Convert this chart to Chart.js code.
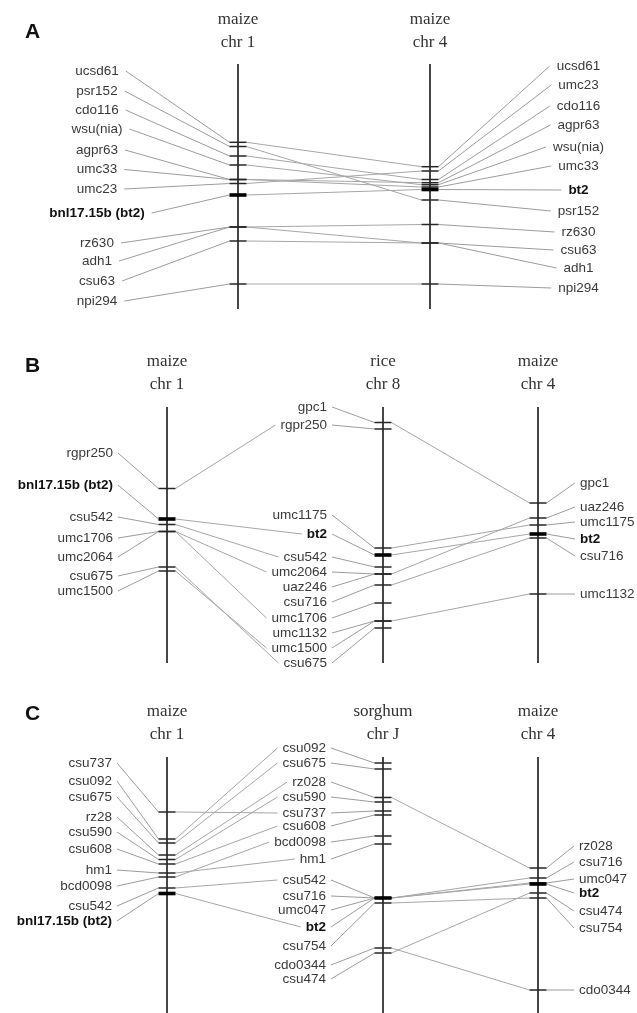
<!DOCTYPE html>
<html>
<head>
<meta charset="utf-8">
<script src="https://cdn.jsdelivr.net/npm/chart.js@4.4.1/dist/chart.umd.min.js"></script>
<style>
html, body { margin: 0; padding: 0; background: #fff; }
#wrap { position: relative; width: 637px; height: 1013px; }
</style>
</head>
<body>
<div id="wrap"><canvas id="mapChart"></canvas></div>
<script>
// marker positions (same vertical units as the page)

// panel A: maize chr 1 vs maize chr 4
const aMaize1Markers = ['ucsd61', 'psr152', 'cdo116', 'wsu(nia)', 'agpr63', 'umc33', 'umc23', 'bnl17.15b (bt2)', 'rz630', 'adh1', 'csu63', 'npi294'];
const aMaize1Pos = [142.3, 146.5, 156, 165, 179.5, 179.5, 183.5, 195, 227, 227, 241, 284];
const aMaize1LabelY = [71, 91, 110, 129, 150, 169.5, 189, 213, 243, 261, 281, 301];

const aMaize4Markers = ['ucsd61', 'umc23', 'cdo116', 'agpr63', 'wsu(nia)', 'umc33', 'bt2', 'psr152', 'rz630', 'csu63', 'adh1', 'npi294'];
const aMaize4Pos = [166.7, 171, 179.5, 182.7, 184.7, 187, 189.5, 200, 224.5, 243, 243, 284];
const aMaize4LabelY = [66, 85, 106, 125, 147, 166, 190, 211, 232, 250, 268, 288];

const aLinks = [
  ['ucsd61', 'ucsd61'], ['psr152', 'psr152'], ['cdo116', 'cdo116'], ['wsu(nia)', 'wsu(nia)'],
  ['agpr63', 'agpr63'], ['umc33', 'umc33'], ['umc23', 'umc23'], ['bnl17.15b (bt2)', 'bt2'],
  ['rz630', 'rz630'], ['adh1', 'adh1'], ['csu63', 'csu63'], ['npi294', 'npi294']
];

// panel B: maize chr 1 - rice chr 8 - maize chr 4
const bMaize1Markers = ['rgpr250', 'bnl17.15b (bt2)', 'csu542', 'umc1706', 'umc2064', 'csu675', 'umc1500'];
const bMaize1Pos = [488.5, 519, 524.5, 531.5, 531.5, 567, 571];
const bMaize1LabelY = [453, 485, 517, 538, 557, 576, 591];

const bRiceMarkers = ['gpc1', 'rgpr250', 'umc1175', 'bt2', 'csu542', 'umc2064', 'uaz246', 'csu716', 'umc1706', 'umc1132', 'umc1500', 'csu675'];
const bRicePos = [422.5, 429, 548, 555, 567, 574, 574, 585, 603, 621, 621, 628];
const bRiceLabelY = [407, 425, 515, 534, 557, 572, 587, 602, 618, 633, 648, 663];

const bMaize4Markers = ['gpc1', 'uaz246', 'umc1175', 'bt2', 'csu716', 'umc1132'];
const bMaize4Pos = [503, 518, 525, 534, 538, 594];
const bMaize4LabelY = [483, 507, 522, 539, 556, 594];

const bLinksMaize1Rice = [
  ['rgpr250', 'rgpr250'], ['bnl17.15b (bt2)', 'bt2'], ['csu542', 'csu542'], ['umc1706', 'umc1706'],
  ['umc2064', 'umc2064'], ['csu675', 'csu675'], ['umc1500', 'umc1500']
];
const bLinksRiceMaize4 = [
  ['gpc1', 'gpc1'], ['umc1175', 'umc1175'], ['bt2', 'bt2'], ['uaz246', 'uaz246'],
  ['csu716', 'csu716'], ['umc1132', 'umc1132']
];

// panel C: maize chr 1 - sorghum chr J - maize chr 4
const cMaize1Markers = ['csu737', 'csu092', 'csu675', 'rz28', 'csu590', 'csu608', 'hm1', 'bcd0098', 'csu542', 'bnl17.15b (bt2)'];
const cMaize1Pos = [812, 839, 843, 855, 859.5, 864, 873, 877, 888, 893.5];
const cMaize1LabelY = [763, 781, 797, 817, 832, 849, 870, 886, 906, 921];

const cSorghumMarkers = ['csu092', 'csu675', 'rz028', 'csu590', 'csu737', 'csu608', 'bcd0098', 'hm1', 'csu542', 'csu716', 'umc047', 'bt2', 'csu754', 'cdo0344', 'csu474'];
const cSorghumPos = [763, 769, 797.5, 802, 811, 815, 836, 844, 898, 898, 898, 898, 903, 948, 953];
const cSorghumLabelY = [748, 763, 782, 797, 813, 826, 842, 859, 880, 896, 910, 927, 946, 965, 979];

const cMaize4Markers = ['rz028', 'csu716', 'umc047', 'bt2', 'csu474', 'csu754', 'cdo0344'];
const cMaize4Pos = [868, 878, 883, 884, 893, 898, 990];
const cMaize4LabelY = [846, 862, 879, 893, 911, 928, 990];

const cLinksMaize1Sorghum = [
  ['csu737', 'csu737'], ['csu092', 'csu092'], ['csu675', 'csu675'], ['rz28', 'rz028'],
  ['csu590', 'csu590'], ['csu608', 'csu608'], ['hm1', 'hm1'], ['bcd0098', 'bcd0098'],
  ['csu542', 'csu542'], ['bnl17.15b (bt2)', 'bt2']
];
const cLinksSorghumMaize4 = [
  ['rz028', 'rz028'], ['csu716', 'csu716'], ['umc047', 'umc047'], ['bt2', 'bt2'],
  ['csu474', 'csu474'], ['csu754', 'csu754'], ['cdo0344', 'cdo0344']
];

// ---- layout ----
const W = 637, H = 1013;
const TICK_HALF = 8.5;
const LABEL_FONT = '13.5px "Liberation Sans", Arial, sans-serif';
const LABEL_BOLD = 'bold 13.5px "Liberation Sans", Arial, sans-serif';
const TITLE_FONT = '17px "Liberation Serif", "Times New Roman", serif';
const LETTER_FONT = 'bold 21px "Liberation Sans", Arial, sans-serif';

const panels = [
  {
    letter: 'A', letterY: 32, titleY: [20, 43], gap: 7,
    chroms: [
      { title: ['maize', 'chr 1'], x: 238, top: 64, bottom: 309, side: 'left', align: 'center', labelX: 97,
        markers: aMaize1Markers, pos: aMaize1Pos, labelY: aMaize1LabelY },
      { title: ['maize', 'chr 4'], x: 430, top: 64, bottom: 309, side: 'right', align: 'center', labelX: 578.5,
        markers: aMaize4Markers, pos: aMaize4Pos, labelY: aMaize4LabelY }
    ],
    links: [{ from: 0, to: 1, pairs: aLinks, toLabel: false }]
  },
  {
    letter: 'B', letterY: 366, titleY: [362, 385], gap: 5,
    chroms: [
      { title: ['maize', 'chr 1'], x: 167, top: 407, bottom: 663, side: 'left', align: 'right', labelX: 113,
        markers: bMaize1Markers, pos: bMaize1Pos, labelY: bMaize1LabelY },
      { title: ['rice', 'chr 8'], x: 383, top: 407, bottom: 663, side: 'left', align: 'right', labelX: 327,
        markers: bRiceMarkers, pos: bRicePos, labelY: bRiceLabelY },
      { title: ['maize', 'chr 4'], x: 538, top: 407, bottom: 663, side: 'right', align: 'left', labelX: 580,
        markers: bMaize4Markers, pos: bMaize4Pos, labelY: bMaize4LabelY }
    ],
    links: [
      { from: 0, to: 1, pairs: bLinksMaize1Rice, toLabel: true },
      { from: 1, to: 2, pairs: bLinksRiceMaize4, toLabel: false }
    ]
  },
  {
    letter: 'C', letterY: 714, titleY: [712, 735], gap: 5,
    chroms: [
      { title: ['maize', 'chr 1'], x: 167, top: 757, bottom: 1013, side: 'left', align: 'right', labelX: 112,
        markers: cMaize1Markers, pos: cMaize1Pos, labelY: cMaize1LabelY },
      { title: ['sorghum', 'chr J'], x: 383, top: 757, bottom: 1013, side: 'left', align: 'right', labelX: 326,
        markers: cSorghumMarkers, pos: cSorghumPos, labelY: cSorghumLabelY },
      { title: ['maize', 'chr 4'], x: 538, top: 757, bottom: 1013, side: 'right', align: 'left', labelX: 579,
        markers: cMaize4Markers, pos: cMaize4Pos, labelY: cMaize4LabelY }
    ],
    links: [
      { from: 0, to: 1, pairs: cLinksMaize1Sorghum, toLabel: true },
      { from: 1, to: 2, pairs: cLinksSorghumMaize4, toLabel: false }
    ]
  }
];

const isBold = name => name === 'bt2' || name.indexOf('(bt2)') >= 0;

const measureCtx = document.createElement('canvas').getContext('2d');
function textWidth(name) {
  measureCtx.font = isBold(name) ? LABEL_BOLD : LABEL_FONT;
  return measureCtx.measureText(name).width;
}
function labelLeft(ch, i) {
  const w = textWidth(ch.markers[i]);
  if (ch.align === 'left') return ch.labelX;
  if (ch.align === 'right') return ch.labelX - w;
  return ch.labelX - w / 2;
}
function labelRight(ch, i) {
  return labelLeft(ch, i) + textWidth(ch.markers[i]);
}

function seg(x1, y1, x2, y2, color, width, order) {
  return {
    data: [{ x: x1, y: y1 }, { x: x2, y: y2 }],
    showLine: true, borderColor: color, borderWidth: width,
    pointRadius: 0, pointHoverRadius: 0, borderCapStyle: 'butt', order: order
  };
}

const datasets = [];
panels.forEach(p => {
  p.chroms.forEach(ch => {
    datasets.push(seg(ch.x, ch.top, ch.x, ch.bottom, '#474747', 2, 2));
    ch.markers.forEach((m, i) => {
      const y = ch.pos[i];
      if (isBold(m)) datasets.push(seg(ch.x - TICK_HALF, y, ch.x + TICK_HALF, y, '#000', 3.6, 0));
      else datasets.push(seg(ch.x - TICK_HALF, y, ch.x + TICK_HALF, y, '#262626', 1.5, 1));
      // leader from label to tick
      if (ch.side === 'left') {
        datasets.push(seg(labelRight(ch, i) + p.gap, ch.labelY[i], ch.x - TICK_HALF, y, '#9c9c9c', 1, 3));
      } else {
        datasets.push(seg(ch.x + TICK_HALF, y, labelLeft(ch, i) - p.gap, ch.labelY[i], '#9c9c9c', 1, 3));
      }
    });
  });
  p.links.forEach(l => {
    const a = p.chroms[l.from], b = p.chroms[l.to];
    l.pairs.forEach(([na, nb]) => {
      const ia = a.markers.indexOf(na), ib = b.markers.indexOf(nb);
      const x1 = a.x + TICK_HALF, y1 = a.pos[ia];
      if (l.toLabel) {
        datasets.push(seg(x1, y1, labelLeft(b, ib) - p.gap, b.labelY[ib], '#a6a6a6', 1, 3));
      } else {
        datasets.push(seg(x1, y1, b.x - TICK_HALF, b.pos[ib], '#a6a6a6', 1, 3));
      }
    });
  });
});

const textPlugin = {
  id: 'mapText',
  afterDatasetsDraw(chart) {
    const ctx = chart.ctx;
    const xs = chart.scales.x, ys = chart.scales.y;
    ctx.save();
    ctx.textBaseline = 'middle';
    panels.forEach(p => {
      ctx.fillStyle = '#111';
      ctx.font = LETTER_FONT;
      ctx.textAlign = 'left';
      ctx.fillText(p.letter, xs.getPixelForValue(25), ys.getPixelForValue(p.letterY));
      p.chroms.forEach(ch => {
        ctx.fillStyle = '#333';
        ctx.font = TITLE_FONT;
        ctx.textAlign = 'center';
        ch.title.forEach((t, k) => {
          ctx.fillText(t, xs.getPixelForValue(ch.x), ys.getPixelForValue(p.titleY[k]));
        });
        ctx.textAlign = ch.align;
        ch.markers.forEach((m, i) => {
          ctx.font = isBold(m) ? LABEL_BOLD : LABEL_FONT;
          ctx.fillStyle = isBold(m) ? '#111' : '#3a3a3a';
          ctx.fillText(m, xs.getPixelForValue(ch.labelX), ys.getPixelForValue(ch.labelY[i]));
        });
      });
    });
    ctx.restore();
  }
};

new Chart(document.getElementById('mapChart'), {
  type: 'scatter',
  data: { datasets: datasets },
  options: {
    responsive: true,
    maintainAspectRatio: false,
    animation: false,
    events: [],
    layout: { padding: 0 },
    plugins: { legend: { display: false }, tooltip: { enabled: false } },
    scales: {
      x: { type: 'linear', min: 0, max: W, display: false },
      y: { type: 'linear', min: 0, max: H, reverse: true, display: false }
    }
  },
  plugins: [textPlugin]
});
</script>
</body>
</html>
